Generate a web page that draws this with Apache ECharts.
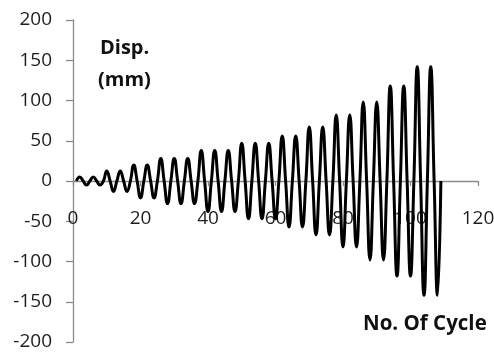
<!DOCTYPE html>
<html>
<head>
<meta charset="utf-8">
<script src="https://cdn.jsdelivr.net/npm/echarts@6/dist/echarts.min.js"></script>
<style>
  html, body { margin: 0; padding: 0; background: #fff; }
  #chart { width: 494px; height: 352px; }
</style>
</head>
<body>
<div id="chart"></div>
<script>
// Cyclic loading history: one peak and one trough per cycle (mm)
const cyclePeaks   = [5, 5, 12.5, 12.5, 20, 20, 28, 28, 28, 38, 38, 38, 47, 47, 47, 56, 56, 67, 67, 82, 82, 98, 98, 118, 118, 142, 142];
const cycleTroughs = [-5, -5, -13, -13, -21, -21, -28, -28, -28, -38, -38, -38, -47, -47, -47, -57, -57, -67, -67, -82, -82, -98, -98, -118, -118, -142, -142];
const xTicks = [0, 20, 40, 60, 80, 100, 120];
const yTicks = [-200, -150, -100, -50, 0, 50, 100, 150, 200];

// Each cycle spans four steps: zero, peak, zero, trough; the record closes at zero.
const history = [];
let step = 1;
cyclePeaks.forEach((p, i) => {
  history.push([step, 0]);
  history.push([step + 1, p]);
  history.push([step + 2, 0]);
  history.push([step + 3, cycleTroughs[i]]);
  step += 4;
});
history.push([step, 0]);

const axisGray = '#8a8a8a';
const labelFont = { fontFamily: 'Open Sans', fontSize: 19, color: '#1e1e1e' };

const gridTop = 20, gridBottom = 10, chartH = 352;
// the category axis sits on the zero line, in the middle of the value range
const plotH = chartH - gridTop - gridBottom;
const zeroShift = -plotH / 2;

const chart = echarts.init(document.getElementById('chart'), null, { renderer: 'canvas' });
chart.setOption({
  animation: false,
  grid: { left: 73, right: 16, top: gridTop, bottom: gridBottom, containLabel: false, outerBoundsMode: 'none' },
  xAxis: {
    type: 'value',
    position: 'bottom',
    offset: zeroShift,
    min: xTicks[0], max: xTicks[xTicks.length - 1], interval: 20,
    axisLine: { show: true, onZero: false, lineStyle: { color: axisGray, width: 1.3 } },
    axisTick: { show: true, inside: false, length: 5, lineStyle: { color: axisGray, width: 1.3 } },
    axisLabel: Object.assign({ margin: 28, hideOverlap: false }, labelFont),
    splitLine: { show: false }
  },
  yAxis: {
    type: 'value',
    min: yTicks[0], max: yTicks[yTicks.length - 1], interval: 50,
    axisLine: { show: true, lineStyle: { color: axisGray, width: 1.3 } },
    axisTick: { show: true, inside: false, length: 7, lineStyle: { color: axisGray, width: 1.3 } },
    axisLabel: Object.assign({ margin: 21 }, labelFont),
    splitLine: { show: false }
  },
  graphic: [
    { type: 'text', left: 100, top: 38,
      style: { text: 'Disp.', font: 'bold 20px "Open Sans"', fill: '#111' } },
    { type: 'text', left: 98, top: 70,
      style: { text: '(mm)', font: 'bold 20px "Open Sans"', fill: '#111' } },
    { type: 'text', left: 363, top: 314,
      style: { text: 'No. Of Cycle', font: 'bold 20.5px "Open Sans"', fill: '#111' } }
  ],
  series: [{
    type: 'line',
    data: history,
    smooth: 0.5,
    showSymbol: false,
    lineStyle: { color: '#000', width: 3 },
    z: 3
  }]
});
</script>
</body>
</html>
